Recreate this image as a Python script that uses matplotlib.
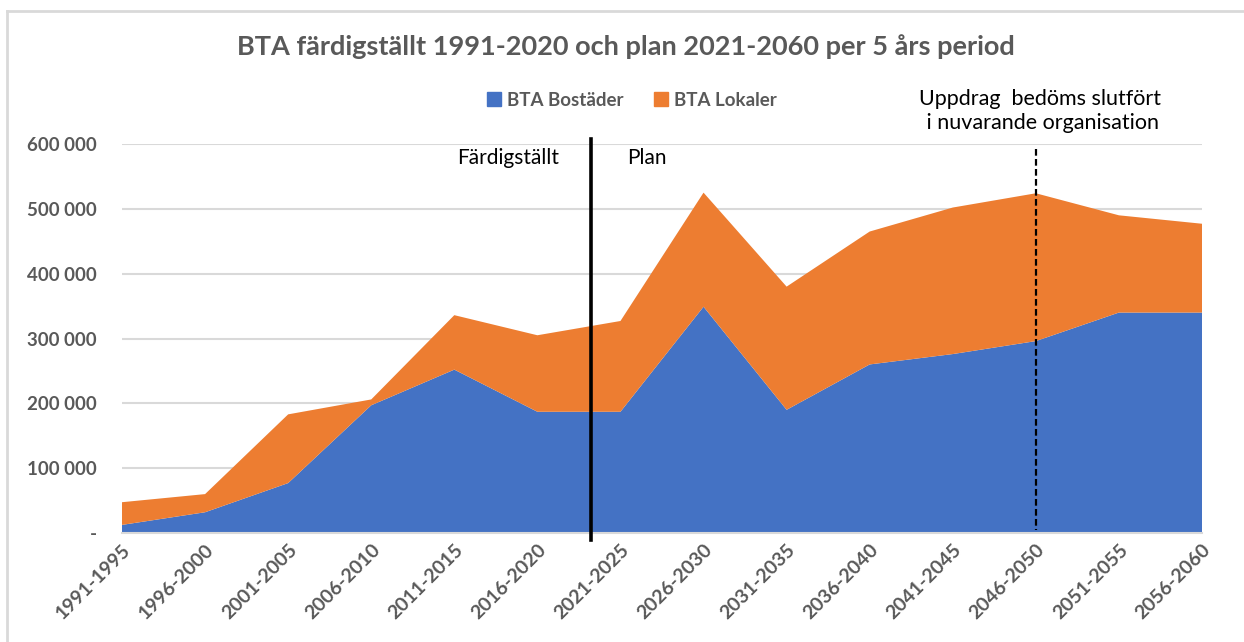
import numpy as np
import matplotlib.pyplot as plt
from matplotlib.ticker import FuncFormatter
from matplotlib.lines import Line2D

plt.rcParams['font.family'] = ['Lato', 'DejaVu Sans']

perioder = ['1991-1995', '1996-2000', '2001-2005', '2006-2010', '2011-2015',
            '2016-2020', '2021-2025', '2026-2030', '2031-2035', '2036-2040',
            '2041-2045', '2046-2050', '2051-2055', '2056-2060']
bostader = [12500, 32000, 77000, 197000, 252000, 187000, 187000,
            349000, 190000, 260000, 276000, 296000, 340000, 340000]
lokaler = [35000, 28000, 106000, 9000, 84000, 118000, 140000,
           176000, 190000, 205000, 226000, 228000, 150000, 137000]

# where the two vertical markers sit (category index)
gans_plan = 5.64
gans_uppdrag = 11

blue = '#4472C4'
orange = '#ED7D31'
grey = '#595959'

W, H = 1244, 642
fig = plt.figure(figsize=(W/100, H/100), dpi=100)
ax = fig.add_axes([122/W, 1-533/H, (1202-122)/W, (533-144)/H])

x = np.arange(len(perioder))
ax.stackplot(x, bostader, lokaler, colors=[blue, orange], zorder=2)

ax.set_xlim(0, len(perioder)-1)
ax.set_ylim(0, 600000)
ax.set_yticks(np.arange(0, 600001, 100000))
ax.yaxis.set_major_formatter(FuncFormatter(
    lambda v, p: '-' if v == 0 else f'{int(v):,}'.replace(',', ' ')))
ax.grid(axis='y', color='#d9d9d9', lw=1.5, zorder=0)
for s in ['top', 'right', 'left']:
    ax.spines[s].set_visible(False)
ax.spines['bottom'].set_color('#d9d9d9')
ax.spines['bottom'].set_linewidth(1.5)
ax.tick_params(length=0)
ax.tick_params(axis='y', pad=18, labelsize=13.5, labelcolor=grey)
ax.set_xticks(x)
ax.set_xticklabels(perioder, rotation=45, ha='right', rotation_mode='anchor',
                   fontsize=14, color=grey, fontweight='bold')
ax.tick_params(axis='x', pad=6)
for t in ax.get_yticklabels():
    t.set_fontweight('bold')

# vertical markers
ax.plot([gans_plan, gans_plan], [607000, -11000], color='black', lw=2.6,
        clip_on=False, zorder=4)
ax.plot([gans_uppdrag, gans_uppdrag], [593000, 4000], color='black', lw=1.6,
        ls=(0, (3, 1.5)), clip_on=False, zorder=4)

fig.text(508/W, 1-158/H, 'Färdigställt', ha='center', va='center',
         fontsize=15, color='black')
fig.text(647/W, 1-158/H, 'Plan', ha='center', va='center',
         fontsize=15, color='black')
fig.text(1040/W, 1-111/H, 'Uppdrag  bedöms slutfört\n i nuvarande organisation',
         ha='center', va='center', fontsize=15.5, color='black', linespacing=1.3)

fig.text(626/W, 1-47/H, 'BTA färdigställt 1991-2020 och plan 2021-2060 per 5 års period',
         ha='center', va='center', fontsize=19.5, fontweight='bold', color=grey)

handles = [Line2D([], [], marker='s', ls='', color=blue, markersize=10),
           Line2D([], [], marker='s', ls='', color=orange, markersize=10)]
leg = fig.legend(handles, ['BTA Bostäder', 'BTA Lokaler'], loc='center',
                 bbox_to_anchor=(631/W, 1-100/H), ncol=2, frameon=False,
                 handletextpad=0.2, columnspacing=1.5, handlelength=1,
                 prop={'size': 13.5, 'weight': 'bold'})
for t in leg.get_texts():
    t.set_color(grey)

# chart frame (top and left edges visible)
fig.add_artist(Line2D([7/W, 7/W], [0, 1-11/H], transform=fig.transFigure,
                      color='#d9d9d9', lw=2))
fig.add_artist(Line2D([7/W, 1], [1-11/H, 1-11/H], transform=fig.transFigure,
                      color='#d9d9d9', lw=2))

fig.savefig('out.png', dpi=100)
